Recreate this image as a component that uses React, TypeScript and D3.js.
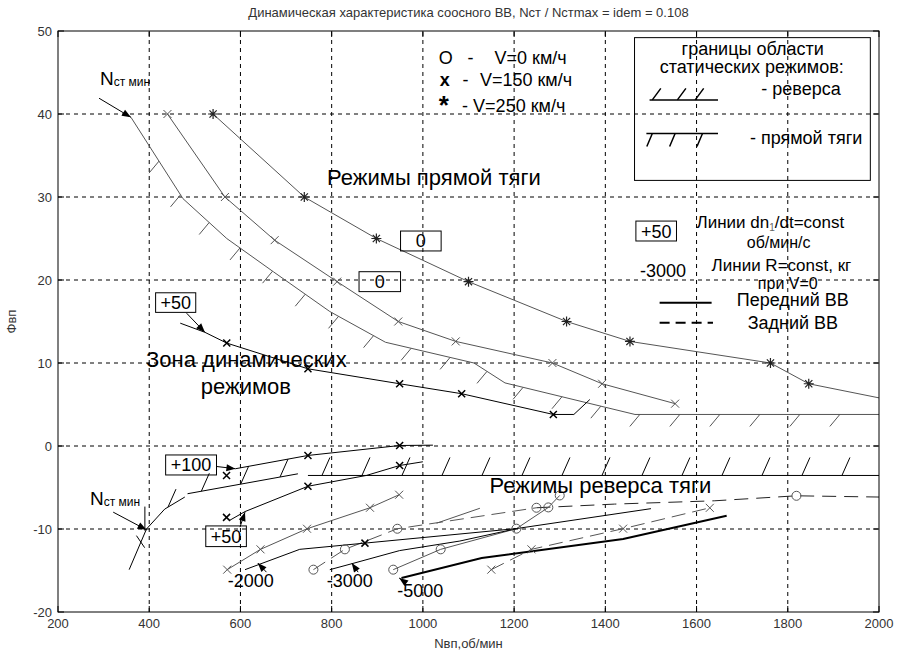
import React from 'react';
import * as d3 from 'd3';

type P = [number, number];

const W = 897, H = 657;
const FONT = '"Liberation Sans", Arial, Helvetica, sans-serif';

const xTicks = d3.range(200, 2001, 200);
const yTicks = d3.range(-20, 51, 10);

// --- forward thrust, dn/dt = 0 speed curves
const star0: P[] = [[540, 40], [740, 30], [898, 25], [1100, 19.8], [1315, 15], [1454, 12.6], [1762, 10], [1846, 7.5]];
const star0Tail: P[] = [[2000, 5.8]];
const cross0: P[] = [[440, 40], [566, 30], [675, 24.8], [812, 19.8], [946, 15], [1072, 12.6], [1284, 10], [1393, 7.5], [1553, 5.1]];

// static boundary, forward thrust (hatched)
const fwdBound: P[] = [[360, 39.6], [474, 29.8], [570, 25], [672, 21], [796, 16.2], [918, 12.5], [1112, 10], [1180, 7.6], [1465, 3.8], [2000, 3.8]];

// dn/dt = +50, forward
const dyn50: P[] = [[468, 14.8], [522, 13.7], [570, 12.4], [748, 9.3], [949, 7.5], [1085, 6.3], [1286, 3.8], [1331, 3.8], [1366, 5.6]];
const dyn50Marks: P[] = [[570, 12.4], [748, 9.3], [949, 7.5], [1085, 6.3], [1286, 3.8]];

// static boundary, reverse (hatched)
const revBound1: P[] = [[356, -14.9], [394, -10], [434, -7.6], [478, -6.15]];
const revBound2: P[] = [[484, -5.75], [726, -3.35]];
const revBound3: P[] = [[748, -3.55], [2000, -3.55]];
const nMinMarks: P[][] = [[[390.5, -7.3], [390.5, -10.2]], [[372, -10.8], [390, -12.25]]];

// dn/dt = +100 and +50, reverse
const dyn100: P[] = [[589, -2.74], [748, -1.14], [949, 0.06], [1022, 0.1]];
const dyn100Marks: P[] = [[569.5, -3.55], [748, -1.14], [949, 0.06]];
const dyn50r: P[] = [[575, -9.0], [610, -7.9], [748, -4.85], [876, -3.55], [949, -2.35], [1000, -1.9]];
const dyn50rMarks: P[] = [[569.5, -8.6], [748, -4.85], [949, -2.35]];

// reverse, speed curves
const cross150a: P[] = [[571, -14.9], [644, -12.45], [746, -9.97], [884, -7.44], [948, -5.87]];
const circle0a: P[] = [[760, -14.9], [829, -12.45], [944, -9.97], [1249, -7.44]];
const circle0aTail: P[] = [[1420, -7.0], [1640, -6.6], [1819, -6.0], [2000, -6.15]];
const circle0aTailMarks: P[] = [[1819, -6.0]];
const circle0b: P[] = [[935, -14.9], [1039, -12.45], [1205, -9.96], [1275, -7.4], [1300, -5.96]];
const cross150b: P[] = [[1150, -14.9], [1238, -12.45], [1439, -9.96], [1629, -7.45]];
const shortSeg: P[] = [[1030, -9.3], [1125, -7.5]];

// R = const lines
const r2000: P[] = [[610, -14.9], [730, -12.45], [873, -11.7], [1205, -9.95], [1500, -7.55]];
const r2000Marks: P[] = [[873, -11.7]];
const r3000: P[] = [[796, -14.9], [843, -14.2], [949, -12.6], [1081, -11.45], [1205, -9.96]];
const r5000: P[] = [[953, -15.9], [1129, -13.5], [1439, -11.2], [1666, -8.4]];

// annotation arrows [from, to]
const arrows: [P, P][] = [
  [[290, 41.9], [360, 39.6]],
  [[482, 16.0], [522, 13.7]],
  [[548, -2.47], [589, -2.74]],
  [[599, -9.77], [610, -7.97]],
  [[321, -7.97], [394, -10.1]],
  [[657, -15.2], [638, -14.1]],
  [[858, -15.2], [844, -14.1]],
  [[963, -16.5], [948, -15.9]],
];

// boxed labels: text, x0, x1, y0, y1
const boxes: [string, number, number, number, number][] = [
  ['0', 951, 1040, 23.5, 25.9],
  ['0', 860, 951, 18.6, 21.0],
  ['+50', 414, 502, 16.1, 18.46],
  ['+100', 436, 547.5, -3.49, -1.08],
  ['+50', 524, 613, -12.12, -9.63],
  ['+50', 1467, 1556, 24.7, 27.1],
];

// free labels: text, x, y, size, anchor
const labels: [string, number, number, number, string][] = [
  ['Режимы прямой тяги', 790, 31.4, 22, 'start'],
  ['Зона динамических', 613, 9.55, 22, 'middle'],
  ['режимов', 612, 6.26, 22, 'middle'],
  ['Режимы реверса тяги', 1146, -5.66, 22, 'start'],
  ['-2000', 572, -17.0, 18, 'start'],
  ['-3000', 789, -16.97, 18, 'start'],
  ['-5000', 944, -18.2, 18, 'start'],
  ['-3000', 1476, 20.35, 18, 'start'],
  ['об/мин/с', 1780, 23.8, 16, 'middle'],
  ['Линии R=const, кг', 1633, 21.1, 17, 'start'],
  ['при V=0', 1800, 18.95, 16, 'middle'],
  ['Передний ВВ', 1688, 16.85, 18, 'start'],
  ['Задний ВВ', 1712, 14.1, 18, 'start'],
  ['O', 1035, 46.0, 18, 'start'],
  ['-', 1098, 46.0, 18, 'start'],
  ['V=0 км/ч', 1157, 46.0, 18, 'start'],
  ['-', 1087, 43.4, 18, 'start'],
  ['V=150 км/ч', 1125, 43.4, 18, 'start'],
  ['- V=250 км/ч', 1086, 40.2, 18, 'start'],
  ['границы области', 1723, 47.1, 18, 'middle'],
  ['статических режимов:', 1721, 44.9, 18, 'middle'],
  ['- реверса', 1742, 42.3, 18, 'start'],
  ['-  прямой тяги', 1717, 36.4, 18, 'start'],
];
const nMinLabels: P[] = [[292, 43.5], [270, -7.1]];

const crossPath = (cx: number, cy: number, s: number) =>
  `M${cx - s},${cy - s}L${cx + s},${cy + s}M${cx - s},${cy + s}L${cx + s},${cy - s}`;
const starPath = (cx: number, cy: number, s: number) =>
  crossPath(cx, cy, s * 0.72) + `M${cx - s},${cy}L${cx + s},${cy}M${cx},${cy - s}L${cx},${cy + s}`;

function hatchPath(px: number[][], step: number, start: number, dx: number, dy: number) {
  let out = '';
  let next = start, acc = 0;
  for (let i = 1; i < px.length; i++) {
    const [x0, y0] = px[i - 1], [x1, y1] = px[i];
    const len = Math.hypot(x1 - x0, y1 - y0);
    while (next <= acc + len) {
      const t = (next - acc) / len;
      out += `M${x0 + t * (x1 - x0)},${y0 + t * (y1 - y0)}l${dx},${dy}`;
      next += step;
    }
    acc += len;
  }
  return out;
}

export default function App() {
  const x = d3.scaleLinear().domain([200, 2000]).range([58, 879]);
  const y = d3.scaleLinear().domain([-20, 50]).range([612, 31]);
  const line = d3.line<P>().x(d => x(d[0])).y(d => y(d[1]));
  const toPx = (pts: P[]) => pts.map(p => [x(p[0]), y(p[1])]);
  const [x0, x1] = x.range();
  const [y0, y1] = y.range();

  const marks = (pts: P[], kind: string, color: string, key: string) =>
    pts.map((p, i) => {
      const cx = x(p[0]), cy = y(p[1]);
      if (kind === 'o') return <circle key={key + i} cx={cx} cy={cy} r={4.5} fill="none" stroke={color} strokeWidth={1} />;
      if (kind === '*') return <path key={key + i} d={starPath(cx, cy, 5)} stroke={color} strokeWidth={1.2} />;
      if (kind === 'X') return <path key={key + i} d={crossPath(cx, cy, 3.5)} stroke={color} strokeWidth={1.5} />;
      return <path key={key + i} d={crossPath(cx, cy, 4)} stroke={color} strokeWidth={1} />;
    });

  const gray = '#555';

  const arrowEls = arrows.map(([f, t], i) => {
    const fx = x(f[0]), fy = y(f[1]), tx = x(t[0]), ty = y(t[1]);
    const L = Math.hypot(tx - fx, ty - fy);
    const ux = (tx - fx) / L, uy = (ty - fy) / L;
    const hl = 9, hw = 3.5;
    const bx = tx - ux * hl, by = ty - uy * hl;
    return (
      <g key={'a' + i}>
        <line x1={fx} y1={fy} x2={tx} y2={ty} stroke="#000" strokeWidth={1} />
        <path d={`M${tx},${ty}L${bx - uy * hw},${by + ux * hw}L${bx + uy * hw},${by - ux * hw}Z`} fill="#000" />
      </g>
    );
  });

  const fwdHatch = hatchPath(toPx(fwdBound), 40, 52, -10, 12);
  const revHatch = [revBound1, revBound2, revBound3]
    .map((b, i) => hatchPath(toPx(b), 40, i === 0 ? 75 : 14, 8, -18))
    .join('');

  // legend geometry (px, relative to data anchors)
  const revSampleY = y(41.7), fwdSampleY = y(37.65);

  return (
    <svg width={W} height={H} style={{ position: 'absolute', left: 0, top: 0, background: '#fff' }} fontFamily={FONT}>
      <defs>
        <clipPath id="plot">
          <rect x={x0} y={y1} width={x1 - x0} height={y0 - y1} />
        </clipPath>
      </defs>
      <rect width={W} height={H} fill="#fff" />

      {/* grid */}
      <g stroke="#000" strokeWidth={1} strokeDasharray="4,4">
        {xTicks.slice(1, -1).map(t => <line key={'gx' + t} x1={x(t)} x2={x(t)} y1={y0} y2={y1} />)}
        {yTicks.slice(1, -1).map(t => <line key={'gy' + t} x1={x0} x2={x1} y1={y(t)} y2={y(t)} />)}
      </g>

      {/* ticks */}
      <g stroke="#000" strokeWidth={1}>
        {xTicks.map(t => (
          <g key={'tx' + t}>
            <line x1={x(t)} x2={x(t)} y1={y0} y2={y0 - 6} />
            <line x1={x(t)} x2={x(t)} y1={y1} y2={y1 + 6} />
          </g>
        ))}
        {yTicks.map(t => (
          <g key={'ty' + t}>
            <line x1={x0} x2={x0 + 6} y1={y(t)} y2={y(t)} />
            <line x1={x1} x2={x1 - 6} y1={y(t)} y2={y(t)} />
          </g>
        ))}
      </g>

      <g clipPath="url(#plot)" fill="none">
        {/* forward region */}
        <path d={line([...star0, ...star0Tail])!} stroke={gray} strokeWidth={1} />
        <path d={line(cross0)!} stroke={gray} strokeWidth={1} />
        <path d={line(fwdBound)!} stroke={gray} strokeWidth={1} />
        <path d={fwdHatch} stroke={gray} strokeWidth={1} />
        <path d={line(dyn50)!} stroke="#000" strokeWidth={1} />

        {/* reverse region */}
        {[revBound1, revBound2, revBound3].map((b, i) => (
          <path key={'rb' + i} d={line(b)!} stroke="#000" strokeWidth={1} />
        ))}
        <path d={revHatch} stroke="#000" strokeWidth={1} />
        {nMinMarks.map((m, i) => <path key={'nm' + i} d={line(m)!} stroke="#000" strokeWidth={1} />)}
        <path d={line(dyn100)!} stroke="#000" strokeWidth={1} />
        <path d={line(dyn50r)!} stroke="#000" strokeWidth={1} />

        <path d={line(cross150a)!} stroke={gray} strokeWidth={1} />
        <path d={line(circle0a)!} stroke={gray} strokeWidth={1} strokeDasharray="14,7" />
        <path d={line([circle0a[circle0a.length - 1], ...circle0aTail])!} stroke="#222" strokeWidth={1} strokeDasharray="14,8" />
        <path d={line(circle0b)!} stroke={gray} strokeWidth={1} />
        <path d={line(cross150b)!} stroke={gray} strokeWidth={1} strokeDasharray="14,7" />
        <path d={line(shortSeg)!} stroke={gray} strokeWidth={1} />

        <path d={line(r2000)!} stroke="#000" strokeWidth={1} />
        <path d={line(r3000)!} stroke="#000" strokeWidth={1} />
        <path d={line(r5000)!} stroke="#000" strokeWidth={2} />

        {marks(star0, '*', '#222', 's0')}
        {marks(cross0, 'x', gray, 'c0')}
        {marks(dyn50Marks, 'X', '#000', 'd5')}
        {marks(dyn100Marks, 'X', '#000', 'd1')}
        {marks(dyn50rMarks, 'X', '#000', 'dr')}
        {marks(r2000Marks, 'X', '#000', 'r2')}
        {marks(cross150a, 'x', gray, 'ca')}
        {marks(cross150b, 'x', gray, 'cb')}
        {marks(circle0a, 'o', gray, 'oa')}
        {marks(circle0aTailMarks, 'o', gray, 'ot')}
        {marks(circle0b, 'o', gray, 'ob')}
      </g>

      {arrowEls}

      {/* boxed labels */}
      {boxes.map(([t, bx0, bx1, by0, by1], i) => (
        <g key={'b' + i}>
          <rect x={x(bx0)} y={y(by1)} width={x(bx1) - x(bx0)} height={y(by0) - y(by1)} fill="none" stroke="#000" strokeWidth={1} />
          <text x={(x(bx0) + x(bx1)) / 2} y={(y(by0) + y(by1)) / 2 + 6.5} fontSize={18} textAnchor="middle" fill="#000">{t}</text>
        </g>
      ))}

      {labels.map(([t, lx, ly, fs, anchor], i) => (
        <text key={'l' + i} x={x(lx)} y={y(ly)} fontSize={fs} textAnchor={anchor as any} fill="#000">{t}</text>
      ))}
      <text x={x(1037)} y={y(43.4)} fontSize={18} fontWeight="bold" fill="#000">x</text>
      <text x={x(1035)} y={y(40.0)} fontSize={26} fontWeight="bold" fill="#000">*</text>
      <text x={x(1600)} y={y(26.3)} fontSize={17} fill="#000">
        Линии dn<tspan fontSize={10} dy={3} fill="#666">1</tspan><tspan dy={-3}>/dt=const</tspan>
      </text>
      {nMinLabels.map(([lx, ly], i) => (
        <text key={'n' + i} x={x(lx)} y={y(ly)} fill="#000">
          <tspan fontSize={19}>N</tspan><tspan fontSize={12} dy={1}>ст мин</tspan>
        </text>
      ))}

      {/* legend box */}
      <rect x={x(1464)} y={y(49.2)} width={x(1981) - x(1464)} height={y(32.0) - y(49.2)} fill="none" stroke="#000" strokeWidth={1} />
      <line x1={x(1497)} x2={x(1647)} y1={revSampleY} y2={revSampleY} stroke="#000" strokeWidth={1.5} />
      <path d={[1503, 1558, 1597].map(v => `M${x(v)},${revSampleY}l8.5,-11.5`).join('')} stroke="#000" strokeWidth={1.5} />
      <line x1={x(1490)} x2={x(1647)} y1={fwdSampleY} y2={fwdSampleY} stroke="#000" strokeWidth={1.5} />
      <path d={[1503, 1553, 1613].map(v => `M${x(v)},${fwdSampleY}l-5.5,13`).join('')} stroke="#000" strokeWidth={1.5} />
      <line x1={x(1519)} x2={x(1633)} y1={y(17.25)} y2={y(17.25)} stroke="#000" strokeWidth={2} />
      <line x1={x(1519)} x2={x(1636)} y1={y(14.85)} y2={y(14.85)} stroke="#000" strokeWidth={2} strokeDasharray="10,6" />

      {/* axes frame */}
      <rect x={x0} y={y1} width={x1 - x0} height={y0 - y1} fill="none" stroke="#000" strokeWidth={1} />

      {/* tick labels */}
      <g fontSize={13} fill="#333">
        {xTicks.map(t => <text key={'lx' + t} x={x(t)} y={y0 + 16} textAnchor="middle">{t}</text>)}
        {yTicks.map(t => <text key={'ly' + t} x={x0 - 6} y={y(t) + 4.5} textAnchor="end">{t}</text>)}
      </g>

      <text x={(x0 + x1) / 2} y={17} fontSize={13} fill="#333" textAnchor="middle">
        Динамическая характеристика соосного ВВ, Nст / Nстmax = idem = 0.108
      </text>
      <text x={(x0 + x1) / 2} y={y0 + 36} fontSize={13} fill="#333" textAnchor="middle">Nвп,об/мин</text>
      <text transform={`translate(16,${(y0 + y1) / 2}) rotate(-90)`} fontSize={13} fill="#333" textAnchor="middle">Фвп</text>
    </svg>
  );
}
